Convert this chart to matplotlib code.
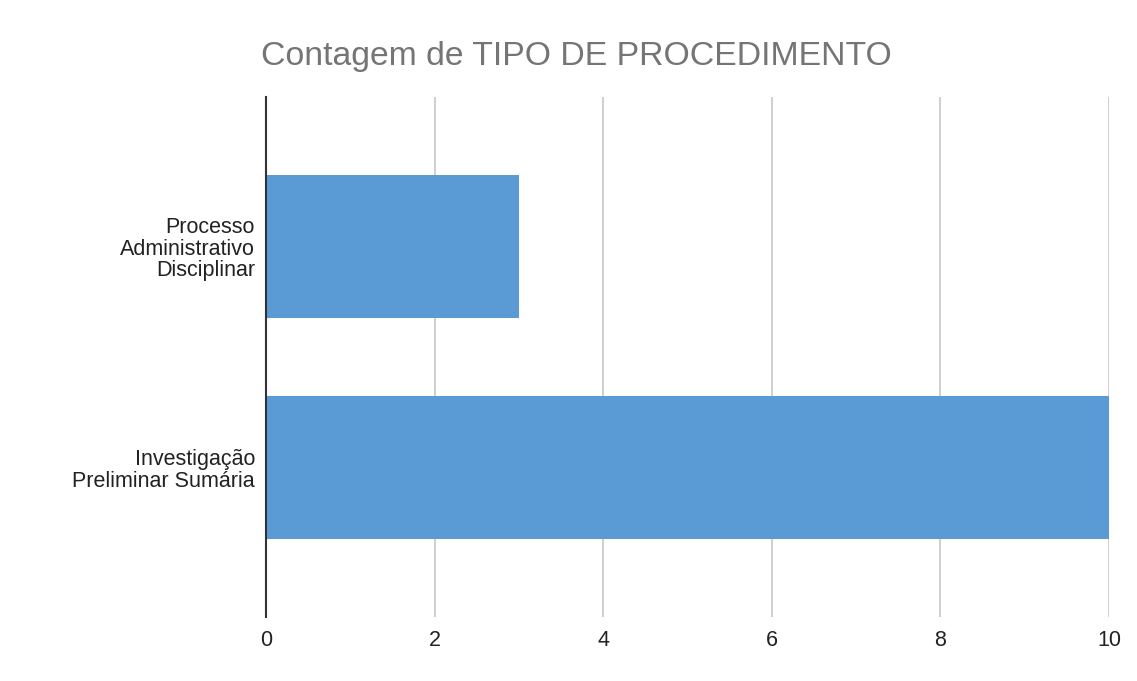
import matplotlib.pyplot as plt

categories = ["Processo\nAdministrativo\nDisciplinar", "Investigação\nPreliminar Sumária"]
counts = [3, 10]
x_ticks = [0, 2, 4, 6, 8, 10]

BAR_COLOR = "#5b9bd5"
GRID_COLOR = "#cccccc"
TITLE_COLOR = "#757575"

plt.rcParams["font.family"] = ["Liberation Sans", "DejaVu Sans"]

fig = plt.figure(figsize=(11.37, 6.81), dpi=100)
ax = fig.add_axes([266 / 1137, 1 - 617 / 681, (1109 - 266) / 1137, (617 - 97) / 681])

pos = list(range(len(categories)))
ax.barh(pos, counts, height=0.644, color=BAR_COLOR, zorder=3)

ax.set_xlim(0, 10)
ax.set_ylim(1.673, -0.673)
ax.set_xticks(x_ticks)
ax.set_xticklabels([str(t) for t in x_ticks])
ax.set_yticks(pos)
ax.set_yticklabels(categories, ha="right", linespacing=1.05)

ax.grid(axis="x", color=GRID_COLOR, linewidth=1.3, zorder=0)
for side in ("top", "right", "bottom"):
    ax.spines[side].set_visible(False)
ax.spines["left"].set_color("#333333")
ax.spines["left"].set_linewidth(1.5)
ax.spines["left"].set_zorder(4)

ax.tick_params(axis="both", length=0, labelsize=15.5, colors="#222222")
ax.tick_params(axis="y", pad=8)
ax.tick_params(axis="x", pad=9)

fig.text(261 / 1137, 1 - 57 / 681, "Contagem de TIPO DE PROCEDIMENTO",
         ha="left", va="center", fontsize=24.3, color=TITLE_COLOR)

fig.savefig("out.png", facecolor="white")
